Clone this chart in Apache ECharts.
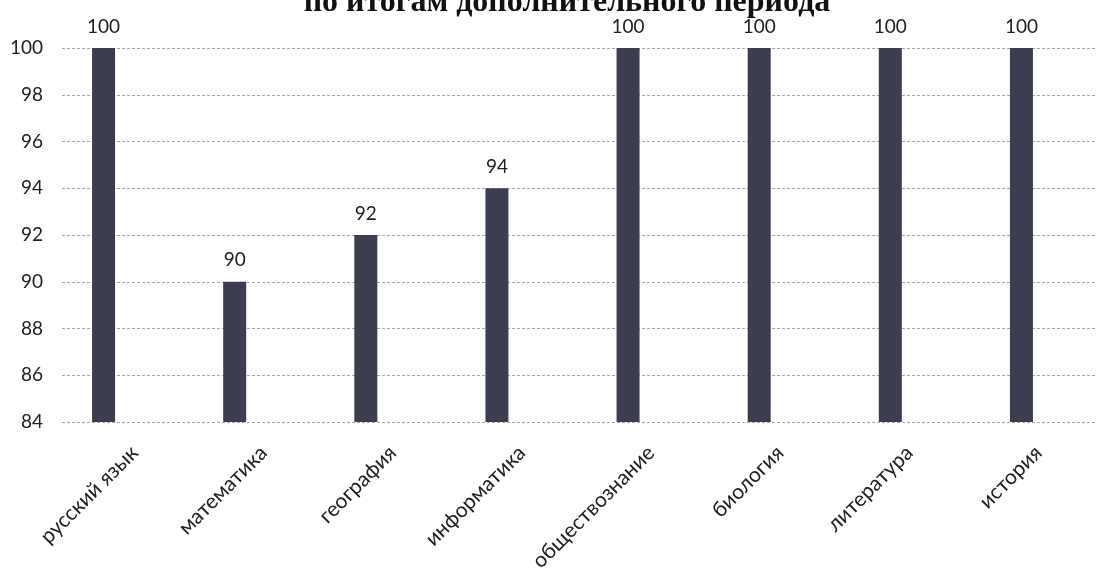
<!DOCTYPE html>
<html>
<head>
<meta charset="utf-8">
<script src="https://cdn.jsdelivr.net/npm/echarts@6/dist/echarts.min.js"></script>
<style>
html,body{margin:0;padding:0;background:#fff;}
#chart{width:1103px;height:574px;}
</style>
</head>
<body>
<div id="chart"></div>
<script>
const titleText = 'по итогам дополнительного периода';
const categories = ['русский язык', 'математика', 'география', 'информатика', 'обществознание', 'биология', 'литература', 'история'];
const values = [100, 90, 92, 94, 100, 100, 100, 100];
const yMin = 84;
const yMax = 100;
const yStep = 2;

const chart = echarts.init(document.getElementById('chart'));
const textFont = 'Lato, "Liberation Sans", sans-serif';
const gridBox = {top: 48, bottom: 152};

chart.setOption({
  animation: false,
  backgroundColor: '#ffffff',
  graphic: [{
    type: 'text',
    x: 567,
    y: 19,
    style: {
      text: titleText,
      align: 'center',
      verticalAlign: 'bottom',
      font: 'bold 32px "Liberation Serif", "DejaVu Serif", serif',
      fill: '#111'
    }
  }],
  grid: [
    Object.assign({left: 62, right: 8}, gridBox),
    Object.assign({left: 38, right: 16}, gridBox),
    Object.assign({left: 70, right: -16}, gridBox)
  ],
  xAxis: [
    {gridIndex: 0, type: 'category', data: categories, show: false},
    {gridIndex: 1, type: 'category', data: categories,
     axisLine: {show: false}, axisTick: {show: false}, axisLabel: {show: false}},
    {gridIndex: 2, type: 'category', data: categories,
     axisLine: {show: false}, axisTick: {show: false},
     axisLabel: {interval: 0, rotate: 45, margin: 29, fontSize: 21, color: '#222', fontFamily: textFont}}
  ],
  yAxis: [
    {gridIndex: 0, type: 'value', min: yMin, max: yMax, interval: yStep,
     axisLine: {show: false}, axisTick: {show: false},
     axisLabel: {margin: 19, fontSize: 19, color: '#222', fontFamily: textFont},
     splitLine: {show: true, lineStyle: {color: '#a8a8a8', width: 1, type: [3, 2]}}},
    {gridIndex: 1, type: 'value', min: yMin, max: yMax, interval: yStep, show: false,
     splitLine: {show: false}},
    {gridIndex: 2, type: 'value', min: yMin, max: yMax, interval: yStep, show: false,
     splitLine: {show: false}}
  ],
  series: [{
    type: 'bar',
    xAxisIndex: 1,
    yAxisIndex: 1,
    data: values,
    barWidth: 23,
    itemStyle: {color: '#3c3d4f'},
    label: {show: true, position: 'top', distance: 12, fontSize: 19, color: '#222', fontFamily: textFont}
  }]
});
</script>
</body>
</html>
